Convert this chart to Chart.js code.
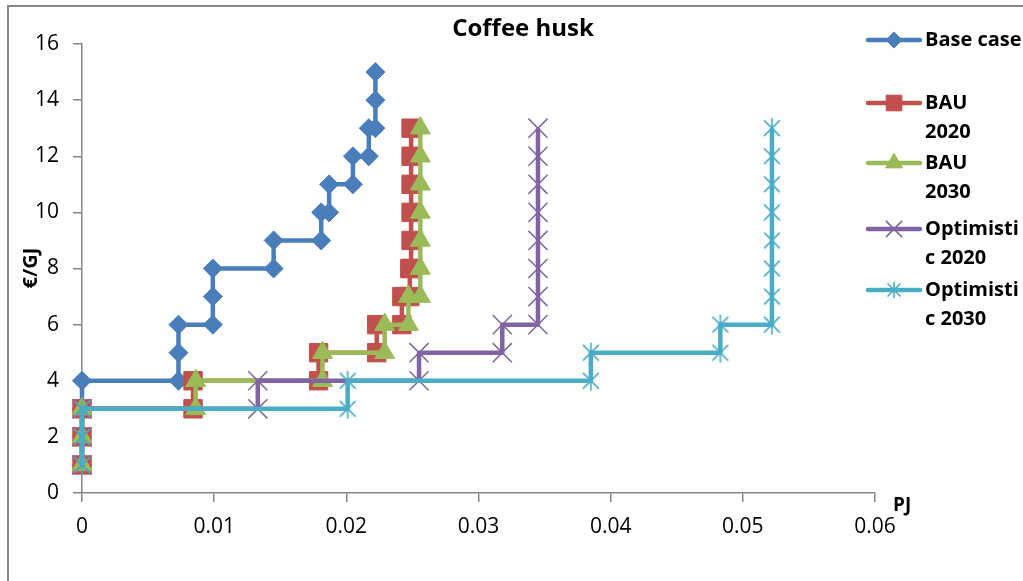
<!DOCTYPE html>
<html>
<head>
<meta charset="utf-8">
<title>Coffee husk</title>
<script src="https://cdn.jsdelivr.net/npm/chart.js"></script>
<style>
  html, body { margin: 0; padding: 0; background: #ffffff; }
  #wrap { width: 1023px; height: 581px; }
</style>
</head>
<body>
<div id="wrap"><canvas id="c" width="1023" height="581"></canvas></div>
<script>
// Cumulative supply (PJ) against cost (€/GJ) for coffee husk, one step curve per scenario
const seriesNames = ['Base case', 'BAU 2020', 'BAU 2030', 'Optimistic 2020', 'Optimistic 2030'];
const legendLines = [['Base case'], ['BAU', '2020'], ['BAU', '2030'], ['Optimisti', 'c 2020'], ['Optimisti', 'c 2030']];

const baseX = [0, 0, 0, 0, 0.0073, 0.0073, 0.0073, 0.0099, 0.0099, 0.0099, 0.0145, 0.0145, 0.0181, 0.0181, 0.0187, 0.0187, 0.0205, 0.0205, 0.0217, 0.0217, 0.0222, 0.0222, 0.0222];
const baseY = [1, 2, 3, 4, 4, 5, 6, 6, 7, 8, 8, 9, 9, 10, 10, 11, 11, 12, 12, 13, 13, 14, 15];

const bau2020X = [0, 0, 0, 0.0084, 0.0084, 0.0179, 0.0179, 0.0223, 0.0223, 0.0242, 0.0242, 0.0248, 0.0248, 0.0249, 0.0249, 0.0249, 0.0249, 0.0249, 0.0249];
const bau2020Y = [1, 2, 3, 3, 4, 4, 5, 5, 6, 6, 7, 7, 8, 8, 9, 10, 11, 12, 13];

const bau2030X = [0, 0, 0, 0.0086, 0.0086, 0.0182, 0.0182, 0.0229, 0.0229, 0.0247, 0.0247, 0.0256, 0.0256, 0.0256, 0.0256, 0.0256, 0.0256, 0.0256];
const bau2030Y = [1, 2, 3, 3, 4, 4, 5, 5, 6, 6, 7, 7, 8, 9, 10, 11, 12, 13];

const opt2020X = [0, 0, 0, 0.0133, 0.0133, 0.0255, 0.0255, 0.0318, 0.0318, 0.0345, 0.0345, 0.0345, 0.0345, 0.0345, 0.0345, 0.0345, 0.0345];
const opt2020Y = [1, 2, 3, 3, 4, 4, 5, 5, 6, 6, 7, 8, 9, 10, 11, 12, 13];

const opt2030X = [0, 0, 0, 0.0201, 0.0201, 0.0385, 0.0385, 0.0483, 0.0483, 0.0522, 0.0522, 0.0522, 0.0522, 0.0522, 0.0522, 0.0522, 0.0522];
const opt2030Y = [1, 2, 3, 3, 4, 4, 5, 5, 6, 6, 7, 8, 9, 10, 11, 12, 13];

const xTickValues = [0, 0.01, 0.02, 0.03, 0.04, 0.05, 0.06];
const xTickLabels = ['0', '0.01', '0.02', '0.03', '0.04', '0.05', '0.06'];
const yTickValues = [0, 2, 4, 6, 8, 10, 12, 14, 16];
const yTickLabels = ['0', '2', '4', '6', '8', '10', '12', '14', '16'];

const colors = ['#4A7EBB', '#C0504D', '#9BBB59', '#8064A2', '#4BACC6'];
const axisGray = '#868686';

function pairs(xs, ys) { return xs.map((x, i) => ({ x: x, y: ys[i] })); }

// asterisk marker: an X with a vertical bar
function asterisk(color, size) {
  const c = document.createElement('canvas');
  c.width = size; c.height = size;
  const g = c.getContext('2d');
  const m = size / 2, a = size * 0.36;
  g.strokeStyle = color; g.lineWidth = 1.6;
  g.beginPath();
  g.moveTo(m - a, m - a); g.lineTo(m + a, m + a);
  g.moveTo(m + a, m - a); g.lineTo(m - a, m + a);
  g.moveTo(m, 1); g.lineTo(m, size - 1);
  g.stroke();
  return c;
}

const markerStyles = ['rectRot', 'rect', 'triangle', 'crossRot', asterisk(colors[4], 22)];
const legendMarkers = ['rectRot', 'rect', 'triangle', 'crossRot', asterisk(colors[4], 18)];
const markerRadius = [9.5, 13, 11.5, 13.5, 11];
const markerBorder = [1, 1, 1, 1.5, 1.5];

const seriesData = [pairs(baseX, baseY), pairs(bau2020X, bau2020Y), pairs(bau2030X, bau2030Y), pairs(opt2020X, opt2020Y), pairs(opt2030X, opt2030Y)];

const datasets = seriesData.map((d, i) => ({
  label: seriesNames[i],
  data: d,
  clip: false,
  borderColor: colors[i],
  backgroundColor: colors[i],
  borderWidth: 4.5,
  borderJoinStyle: 'round',
  tension: 0,
  pointStyle: markerStyles[i],
  pointRadius: markerRadius[i],
  pointHoverRadius: markerRadius[i],
  pointBorderWidth: markerBorder[i],
  pointBorderColor: colors[i],
  pointBackgroundColor: colors[i],
  order: seriesNames.length - 1 - i
}));

const FONT = '"Open Sans", "Liberation Sans", sans-serif';

const decor = {
  id: 'decor',
  beforeDraw(chart) {
    const ctx = chart.ctx;
    ctx.save();
    ctx.fillStyle = '#ffffff';
    ctx.fillRect(0, 0, chart.width, chart.height);
    ctx.strokeStyle = axisGray;
    ctx.lineWidth = 2;
    ctx.beginPath();
    ctx.moveTo(8, chart.height); ctx.lineTo(8, 6); ctx.lineTo(chart.width, 6);
    ctx.stroke();
    ctx.restore();
  },
  afterDraw(chart) {
    const ctx = chart.ctx;
    ctx.save();
    ctx.fillStyle = '#000000';
    // title
    ctx.font = 'bold 24px ' + FONT;
    ctx.textAlign = 'center';
    ctx.textBaseline = 'middle';
    ctx.fillText('Coffee husk', 523, 29);
    // axis titles
    ctx.font = 'bold 19px ' + FONT;
    ctx.textAlign = 'left';
    ctx.fillText('PJ', 893, 506);
    ctx.save();
    ctx.translate(31, 268);
    ctx.rotate(-Math.PI / 2);
    ctx.textAlign = 'center';
    ctx.font = 'bold 20px ' + FONT;
    ctx.fillText('€/GJ', 0, 0);
    ctx.restore();
    // legend
    const rows = [40, 103, 163, 229, 290];
    const lineGap = 29;
    chart.data.datasets.forEach((ds, i) => {
      const y = rows[i];
      ctx.strokeStyle = ds.borderColor;
      ctx.fillStyle = ds.borderColor;
      ctx.lineWidth = 4.5;
      ctx.lineCap = 'round';
      ctx.beginPath();
      ctx.moveTo(868, y); ctx.lineTo(920, y);
      ctx.stroke();
      ctx.lineCap = 'butt';
      ctx.lineWidth = ds.pointBorderWidth;
      Chart.helpers.drawPoint(ctx, {
        pointStyle: legendMarkers[i],
        radius: ds.pointRadius * 0.85,
        borderWidth: ds.pointBorderWidth,
        rotation: 0
      }, 894, y);
      ctx.fillStyle = '#000000';
      ctx.font = 'bold 20px ' + FONT;
      ctx.textAlign = 'left';
      ctx.textBaseline = 'middle';
      legendLines[i].forEach((t, k) => ctx.fillText(t, 925, y + k * lineGap));
    });
    ctx.restore();
  }
};

new Chart(document.getElementById('c'), {
  type: 'line',
  data: { datasets: datasets },
  plugins: [decor],
  options: {
    responsive: false,
    animation: false,
    events: [],
    layout: { padding: { left: 0, top: 44, right: 148, bottom: 38 } },
    plugins: { legend: { display: false }, title: { display: false }, tooltip: { enabled: false } },
    scales: {
      x: {
        type: 'linear',
        min: 0, max: 0.06,
        afterBuildTicks: s => { s.ticks = xTickValues.map(v => ({ value: v })); },
        afterFit: s => { s.height = 50; },
        ticks: {
          callback: (v, i) => xTickLabels[i],
          font: { family: FONT, size: 21 },
          color: '#000000',
          padding: 12,
          maxRotation: 0,
          autoSkip: false
        },
        grid: { drawOnChartArea: false, drawTicks: true, tickLength: 9, color: axisGray, lineWidth: 1.5 },
        border: { color: axisGray, width: 1.5 }
      },
      y: {
        type: 'linear',
        min: 0, max: 16,
        afterBuildTicks: s => { s.ticks = yTickValues.map(v => ({ value: v })); },
        afterFit: s => { s.width = 82; },
        ticks: {
          callback: (v, i) => yTickLabels[i],
          font: { family: FONT, size: 21 },
          color: '#000000',
          padding: 14,
          autoSkip: false
        },
        grid: { drawOnChartArea: false, drawTicks: true, tickLength: 9, color: axisGray, lineWidth: 1.5 },
        border: { color: axisGray, width: 1.5 }
      }
    }
  }
});
</script>
</body>
</html>
